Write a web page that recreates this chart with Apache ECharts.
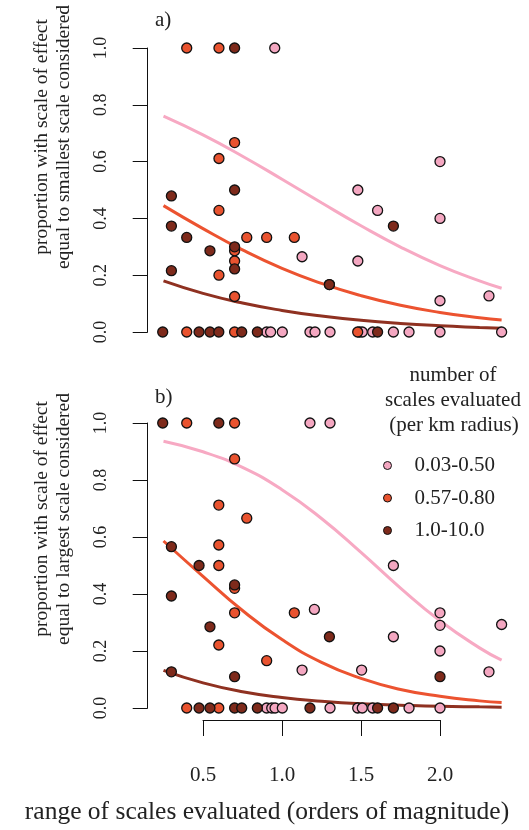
<!DOCTYPE html>
<html><head><meta charset="utf-8">
<script src="https://cdn.jsdelivr.net/npm/echarts@6/dist/echarts.min.js"></script>
<style>html,body{margin:0;padding:0;background:#fff}#c{width:529px;height:830px}</style>
</head><body><div id="c"></div>
<script>
// ---- data ----
const groups = ['0.03-0.50', '0.57-0.80', '1.0-10.0'];
const yTicks = [0, 0.2, 0.4, 0.6, 0.8, 1.0];
const xTicks = [0.5, 1.0, 1.5, 2.0];

// panel a) points [range, proportion]
const aPink = [[0.954,1.0],[2.0,0.60],[1.48,0.50],[1.605,0.428],[2.0,0.40],[1.127,0.265],[1.48,0.25],[2.0,0.11],[2.31,0.127],
  [0.903,0],[0.928,0],[1.002,0],[1.177,0],[1.209,0],[1.304,0],[1.49,0],[1.508,0],[1.574,0],[1.705,0],[1.804,0],[2.0,0],[2.39,0]];
const aOrange = [[0.397,1.0],[0.601,1.0],[0.70,0.667],[0.601,0.611],[0.601,0.428],[0.777,0.333],[0.903,0.333],[1.078,0.333],
  [0.70,0.286],[0.70,0.25],[0.601,0.20],[1.30,0.167],[0.70,0.125],[0.397,0],[0.70,0],[1.479,0]];
const aDark = [[0.70,1.0],[0.30,0.479],[0.70,0.50],[0.30,0.373],[1.705,0.373],[0.397,0.333],[0.544,0.286],[0.70,0.30],
  [0.30,0.216],[0.70,0.222],[1.30,0.167],[0.245,0],[0.475,0],[0.544,0],[0.60,0],[0.745,0],[0.844,0],[1.605,0]];

// panel b) points
const bPink = [[1.177,1.0],[1.304,1.0],[1.705,0.50],[1.205,0.346],[2.0,0.334],[2.0,0.29],[2.39,0.293],[1.705,0.25],[2.0,0.20],
  [1.127,0.133],[1.504,0.133],[2.31,0.127],[0.903,0],[0.935,0],[0.956,0],[1.002,0],[1.304,0],[1.479,0],[1.508,0],[1.574,0],[1.804,0],[2.0,0]];
const bOrange = [[0.397,1.0],[0.70,1.0],[0.70,0.874],[0.60,0.712],[0.777,0.666],[0.60,0.572],[0.60,0.50],[0.70,0.42],
  [0.70,0.334],[1.078,0.334],[0.60,0.221],[0.903,0.166],[0.397,0],[0.60,0]];
const bDark = [[0.245,1.0],[0.60,1.0],[0.30,0.566],[0.475,0.50],[0.70,0.432],[0.30,0.393],[0.544,0.285],[1.30,0.25],
  [0.30,0.127],[0.70,0.11],[2.0,0.11],[0.475,0],[0.544,0],[0.70,0],[0.745,0],[0.844,0],[1.177,0],[1.605,0],[1.705,0]];

// fitted curves
const fitX = [0.25, 0.5, 0.75, 1.0, 1.25, 1.5, 1.75, 2.0, 2.25, 2.39];
const aPinkFit   = [0.760, 0.694, 0.619, 0.538, 0.455, 0.374, 0.299, 0.234, 0.180, 0.154];
const aOrangeFit = [0.445, 0.364, 0.289, 0.224, 0.171, 0.128, 0.094, 0.069, 0.050, 0.042];
const aDarkFit   = [0.180, 0.136, 0.102, 0.076, 0.056, 0.041, 0.030, 0.022, 0.016, 0.013];
const bPinkFit   = [0.936, 0.899, 0.844, 0.766, 0.665, 0.546, 0.421, 0.306, 0.211, 0.168];
const bOrangeFit = [0.586, 0.462, 0.342, 0.240, 0.160, 0.104, 0.065, 0.041, 0.025, 0.019];
const bDarkFit   = [0.132, 0.088, 0.057, 0.037, 0.024, 0.015, 0.010, 0.006, 0.004, 0.003];

// ---- styling ----
const FONT = 'Liberation Serif';
const fill = ['#f4a7c1', '#e9532f', '#7e2a1b'];
const lineCol = ['#f7a9c3', '#ec5330', '#8f3121'];

function pts(idx, gi, data) {
  return { type: 'scatter', name: groups[gi], xAxisIndex: idx, yAxisIndex: idx, data: data,
    symbol: 'circle', symbolSize: 10, clip: false, z: 5,
    itemStyle: { color: fill[gi], borderColor: '#111', borderWidth: 1.3, opacity: 1 } };
}
function fit(idx, gi, ys) {
  return { type: 'line', name: 'fit' + idx + gi, xAxisIndex: idx, yAxisIndex: idx,
    data: fitX.map((x, i) => [x, ys[i]]), smooth: true, showSymbol: false, symbol: 'none', z: 3,
    lineStyle: { color: lineCol[gi], width: 3 } };
}
function yAx(gi) {
  return { gridIndex: gi, type: 'value', min: 0, max: 1, interval: 0.2,
    splitLine: { show: false },
    axisLine: { show: true, lineStyle: { color: '#111', width: 1 } },
    axisTick: { show: true, length: 15, lineStyle: { color: '#111', width: 1 } },
    axisLabel: { rotate: 90, margin: 37, fontSize: 18, fontFamily: FONT, color: '#222',
      formatter: v => v.toFixed(1) } };
}

const chart = echarts.init(document.getElementById('c'), null, { renderer: 'canvas' });
chart.setOption({
  backgroundColor: '#fff',
  animation: false,
  grid: [
    { left: 147.7, right: 17.9, top: 48, height: 284 },
    { left: 147.7, right: 17.9, top: 423, height: 285 },
    { left: 203, right: 89, top: 719, height: 1 }
  ],
  xAxis: [
    { gridIndex: 0, type: 'value', min: 0.15, max: 2.45, show: false },
    { gridIndex: 1, type: 'value', min: 0.15, max: 2.45, show: false },
    { gridIndex: 2, type: 'value', min: xTicks[0], max: xTicks[xTicks.length - 1], interval: 0.5,
      position: 'bottom', splitLine: { show: false },
      axisLine: { show: true, lineStyle: { color: '#111', width: 1 } },
      axisTick: { show: true, length: 16, lineStyle: { color: '#111', width: 1 } },
      axisLabel: { margin: 45, fontSize: 21, fontFamily: FONT, color: '#222', formatter: v => v.toFixed(1) } }
  ],
  yAxis: [ yAx(0), yAx(1), { gridIndex: 2, type: 'value', min: 0, max: 1, show: false } ],
  legend: {
    data: groups, orient: 'vertical', left: 383, top: 455, padding: 0,
    itemWidth: 44, itemHeight: 8, itemGap: 11.5, icon: 'circle',
    textStyle: { fontSize: 21, fontFamily: FONT, color: '#222' },
    itemStyle: { borderColor: '#111', borderWidth: 1 },
    selectedMode: false
  },
  graphic: [
    { type: 'text', x: 155, y: 20, style: { text: 'a)', fontSize: 21, fontFamily: FONT, fill: '#222', textVerticalAlign: 'middle' } },
    { type: 'text', x: 155, y: 397, style: { text: 'b)', fontSize: 21, fontFamily: FONT, fill: '#222', textVerticalAlign: 'middle' } },
    { type: 'text', x: 42, y: 137, rotation: Math.PI / 2, style: { text: 'proportion with scale of effect', fontSize: 19.5, fontFamily: FONT, fill: '#222', textAlign: 'center', textVerticalAlign: 'middle' } },
    { type: 'text', x: 64, y: 137, rotation: Math.PI / 2, style: { text: 'equal to smallest scale considered', fontSize: 19.5, fontFamily: FONT, fill: '#222', textAlign: 'center', textVerticalAlign: 'middle' } },
    { type: 'text', x: 42, y: 519, rotation: Math.PI / 2, style: { text: 'proportion with scale of effect', fontSize: 19.5, fontFamily: FONT, fill: '#222', textAlign: 'center', textVerticalAlign: 'middle' } },
    { type: 'text', x: 64, y: 519, rotation: Math.PI / 2, style: { text: 'equal to largest scale considered', fontSize: 19.5, fontFamily: FONT, fill: '#222', textAlign: 'center', textVerticalAlign: 'middle' } },
    { type: 'text', x: 453, y: 375, style: { text: 'number of', fontSize: 21, fontFamily: FONT, fill: '#222', textAlign: 'center', textVerticalAlign: 'middle' } },
    { type: 'text', x: 453, y: 400, style: { text: 'scales evaluated', fontSize: 21, fontFamily: FONT, fill: '#222', textAlign: 'center', textVerticalAlign: 'middle' } },
    { type: 'text', x: 454, y: 425, style: { text: '(per km radius)', fontSize: 21, fontFamily: FONT, fill: '#222', textAlign: 'center', textVerticalAlign: 'middle' } },
    { type: 'text', x: 267, y: 812, style: { text: 'range of scales evaluated (orders of magnitude)', fontSize: 25.5, fontFamily: FONT, fill: '#222', textAlign: 'center', textVerticalAlign: 'middle' } }
  ],
  series: [
    fit(0, 0, aPinkFit), fit(0, 1, aOrangeFit), fit(0, 2, aDarkFit),
    fit(1, 0, bPinkFit), fit(1, 1, bOrangeFit), fit(1, 2, bDarkFit),
    pts(0, 0, aPink), pts(0, 1, aOrange), pts(0, 2, aDark),
    pts(1, 0, bPink), pts(1, 1, bOrange), pts(1, 2, bDark),
    { type: 'scatter', xAxisIndex: 2, yAxisIndex: 2, data: [], silent: true }
  ]
});
</script>
</body></html>
